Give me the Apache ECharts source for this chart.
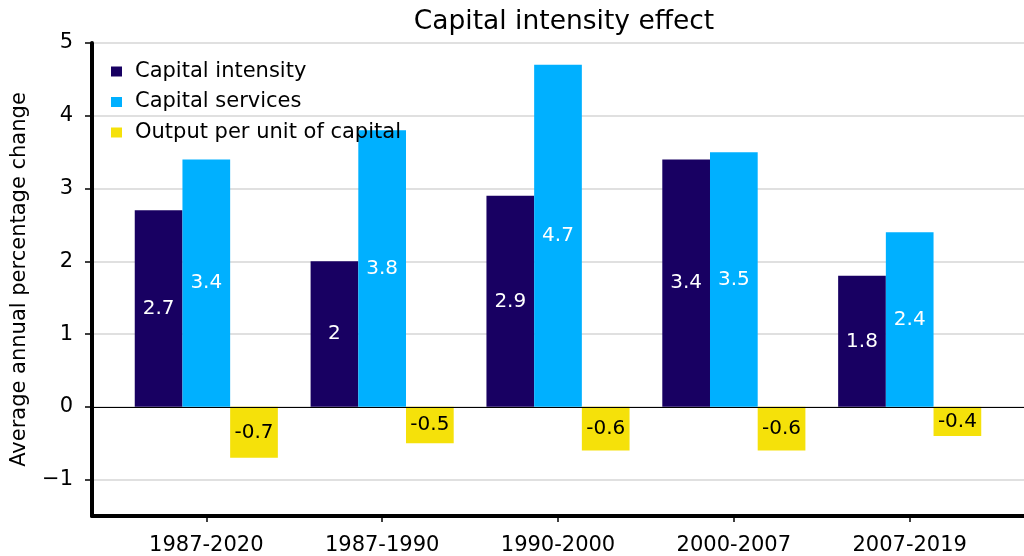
<!DOCTYPE html>
<html>
<head>
<meta charset="utf-8">
<script src="https://cdn.jsdelivr.net/npm/echarts@6/dist/echarts.min.js"></script>
<style>
  html, body { margin: 0; padding: 0; background: #fff; }
  #chart { width: 1024px; height: 556px; }
</style>
</head>
<body>
<div id="chart"></div>
<script>
// periods on the x axis
var categories = ["1987-2020", "1987-1990", "1990-2000", "2000-2007", "2007-2019"];
var capitalIntensity = [2.7, 2.0, 2.9, 3.4, 1.8];
var capitalServices = [3.4, 3.8, 4.7, 3.5, 2.4];
var outputPerCapital = [-0.7, -0.5, -0.6, -0.6, -0.4];
var yTicks = [-1, 0, 1, 2, 3, 4, 5];
var xTicks = [0, 1, 2, 3, 4];

var FONT = "DejaVu Sans";

// bars sit on a value axis so the axis can run past the first/last group
function toPoints(vals) {
  return vals.map(function (v, i) { return [i, v]; });
}

function barSeries(name, vals, color, labelColor) {
  return {
    name: name,
    type: "bar",
    data: toPoints(vals),
    barWidth: 47.7,
    barGap: "0%",
    itemStyle: { color: color },
    label: {
      show: true,
      position: "inside",
      color: labelColor,
      fontSize: 20,
      fontFamily: FONT,
      formatter: function (p) { return String(p.value[1]); }
    }
  };
}

var chart = echarts.init(document.getElementById("chart"));

var series = [
  barSeries("Capital intensity", capitalIntensity, "#180062", "#fff"),
  barSeries("Capital services", capitalServices, "#00b0ff", "#fff"),
  barSeries("Output per unit of capital", outputPerCapital, "#f5e10a", "#000")
];
// zero line
series[0].markLine = {
  silent: true,
  symbol: "none",
  label: { show: false },
  lineStyle: { color: "#000", width: 1, type: "solid" },
  data: [{ yAxis: 0 }]
};

chart.setOption({
  animation: false,
  title: {
    text: "Capital intensity effect",
    left: 559,
    top: 4,
    textAlign: "center",
    textStyle: { fontFamily: FONT, fontSize: 26.5, fontWeight: "normal", color: "#000" }
  },
  legend: {
    orient: "vertical",
    left: 106,
    top: 56,
    itemWidth: 11,
    itemHeight: 10,
    itemGap: 9.5,
    icon: "rect",
    textStyle: { fontFamily: FONT, fontSize: 21, color: "#000", lineHeight: 21, padding: [0, 0, 0, 8] },
    data: ["Capital intensity", "Capital services", "Output per unit of capital"]
  },
  grid: { left: 92, right: 0, top: 43, bottom: 39 },
  xAxis: {
    type: "value",
    min: -0.65,
    max: 4.65,
    axisLine: { show: true, onZero: false, lineStyle: { color: "#000", width: 4 } },
    axisTick: { show: true, customValues: xTicks, length: 6, lineStyle: { color: "#000", width: 1.5 } },
    axisLabel: {
      customValues: xTicks,
      margin: 19,
      fontFamily: FONT,
      fontSize: 21,
      color: "#000",
      formatter: function (v) { return categories[Math.round(v)] || ""; }
    },
    splitLine: { show: false }
  },
  yAxis: {
    type: "value",
    min: -1.5,
    max: 5,
    name: "Average annual percentage change",
    nameLocation: "middle",
    nameGap: 62,
    nameTextStyle: { fontFamily: FONT, fontSize: 21, color: "#000" },
    axisLine: { show: true, onZero: false, lineStyle: { color: "#000", width: 4 } },
    axisTick: { show: true, customValues: yTicks, length: 7, lineStyle: { color: "#000", width: 1.5 } },
    axisLabel: {
      customValues: yTicks,
      margin: 19,
      fontFamily: FONT,
      fontSize: 21,
      color: "#000",
      formatter: function (v) { return v < 0 ? "\u2212" + Math.abs(v) : String(v); }
    },
    splitLine: { show: true, lineStyle: { color: "#d6d6d6", width: 1.5 } }
  },
  series: series
});
</script>
</body>
</html>
